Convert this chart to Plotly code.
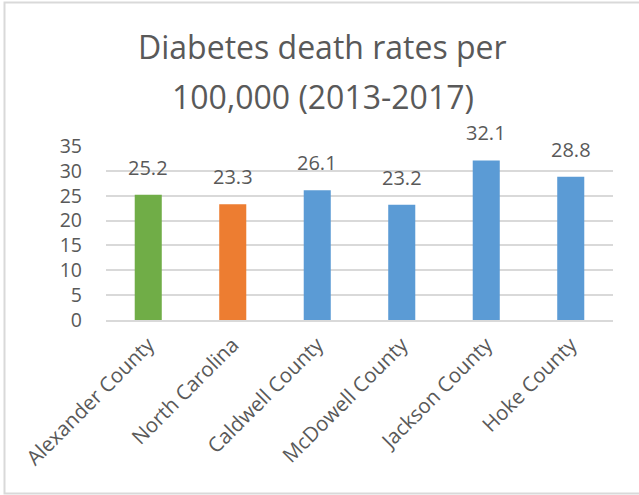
import plotly.graph_objects as go

# Diabetes death rates per 100,000 population, 2013-2017
regions = ["Alexander County", "North Carolina", "Caldwell County",
           "McDowell County", "Jackson County", "Hoke County"]
rates = [25.2, 23.3, 26.1, 23.2, 32.1, 28.8]
bar_colors = ["#70AD47", "#ED7D31", "#5B9BD5", "#5B9BD5", "#5B9BD5", "#5B9BD5"]
y_ticks = [0, 5, 10, 15, 20, 25, 30, 35]
title_lines = ["Diabetes death rates per", "100,000 (2013-2017)"]

FONT = "Open Sans"
TEXT = "#595959"
GRID = "#D9D9D9"

# plot area in pixels: x 106..613, y 146..320
PLOT_LEFT, PLOT_RIGHT = 106, 613
PLOT_TOP, PLOT_BOTTOM = 146, 320
PLOT_W = PLOT_RIGHT - PLOT_LEFT
PLOT_H = PLOT_BOTTOM - PLOT_TOP


def px_to_paper(px):
    return (px - PLOT_LEFT) / PLOT_W


def py_to_paper(py):
    return (PLOT_BOTTOM - py) / PLOT_H


fig = go.Figure(
    go.Bar(
        x=regions,
        y=rates,
        marker=dict(color=bar_colors, line=dict(width=0)),
        hoverinfo="x+y",
    )
)

# value labels above each bar
for name, val in zip(regions, rates):
    fig.add_annotation(
        x=name, y=val, xref="x", yref="y",
        text=f"{val:.1f}", showarrow=False,
        yanchor="bottom", yshift=12,
        font=dict(family=FONT, size=20, color=TEXT),
    )

# two-line chart title
for i, line in enumerate(title_lines):
    fig.add_annotation(
        x=px_to_paper(322.5), xref="paper", y=py_to_paper(46 + 50 * i), yref="paper",
        text=line, showarrow=False, xanchor="center", yanchor="middle",
        font=dict(family=FONT, size=32, color=TEXT),
    )

fig.update_layout(
    width=639, height=495,
    margin=dict(l=PLOT_LEFT, r=639 - PLOT_RIGHT, t=PLOT_TOP, b=495 - PLOT_BOTTOM),
    paper_bgcolor="white", plot_bgcolor="white",
    showlegend=False,
    bargap=0.68,
    font=dict(family=FONT, size=20, color=TEXT),
)

fig.update_xaxes(
    tickangle=-45, showgrid=False, zeroline=False,
    showline=True, linecolor=GRID, linewidth=1.5,
    tickfont=dict(family=FONT, size=20.5, color=TEXT),
    ticks="", ticklabelstandoff=3,
)
fig.update_yaxes(
    range=[0, 35], tickvals=y_ticks, showgrid=True, gridcolor=GRID, gridwidth=1.5,
    zeroline=False, showline=False,
    tickfont=dict(family=FONT, size=19.5, color=TEXT),
    ticks="", ticklabelstandoff=23,
)

# light frame around the whole chart
fig.add_shape(
    type="rect", xref="paper", yref="paper",
    x0=px_to_paper(4.5), x1=px_to_paper(650),
    y0=py_to_paper(493.5), y1=py_to_paper(2.5),
    line=dict(color=GRID, width=2), fillcolor="rgba(0,0,0,0)", layer="below",
)

fig.write_html("out.html")
